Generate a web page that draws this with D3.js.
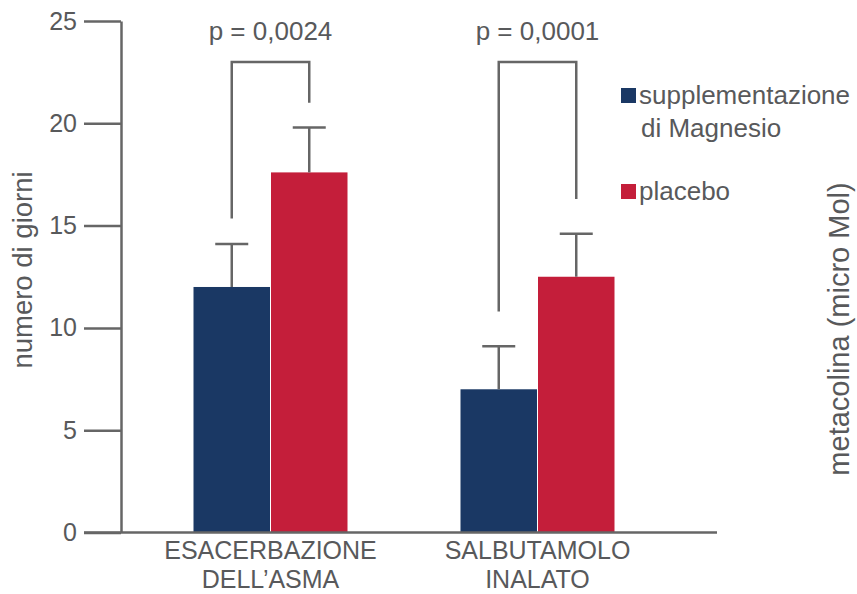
<!DOCTYPE html>
<html lang="it">
  <head>
    <meta charset="UTF-8" />
    <title>Magnesio vs placebo</title>
    <script src="https://d3js.org/d3.v7.min.js"></script>
    <style>
      body {
        margin: 0;
        background: #fff;
      }
      text {
        font-family: 'Liberation Sans', Arial, sans-serif;
        fill: #58595b;
      }
    </style>
  </head>
  <body>
    <svg width="857" height="594"></svg>
    <script>
      // dati
      const categories = [['ESACERBAZIONE', 'DELL\u2019ASMA'], ['SALBUTAMOLO', 'INALATO']];
      const series = ['supplementazione di Magnesio', 'placebo'];
      const magnesio = [12.0, 7.0];
      const placebo = [17.6, 12.5];
      const errMagnesio = [2.1, 2.1];
      const errPlacebo = [2.2, 2.1];
      const pValues = ['p = 0,0024', 'p = 0,0001'];
      const bracketTop = 23;
      const bracketLeft = [15.35, 10.8];
      const bracketRight = [21.0, 16.3];
      const yTicks = [0, 5, 10, 15, 20, 25];

      const colors = ['#1a3864', '#c41e3a'];
      const grey = '#666666';

      const svg = d3.select('svg');
      const keys = categories.map((c) => c.join(' '));

      const y = d3.scaleLinear().domain([0, 25]).range([532.5, 21]);
      const x0 = d3.scaleBand().domain(keys).range([137, 671]);
      const x1 = d3
        .scaleBand()
        .domain(series)
        .range([56.5, 210.5])
        .paddingInner(0.013);

      const rows = keys.map((k, i) => ({
        key: k,
        i: i,
        vals: [
          { s: series[0], v: magnesio[i], e: errMagnesio[i] },
          { s: series[1], v: placebo[i], e: errPlacebo[i] },
        ],
      }));

      // asse y
      const yAxis = svg
        .append('g')
        .attr('transform', 'translate(121,0)')
        .call(
          d3
            .axisLeft(y)
            .tickValues(yTicks)
            .tickSize(37)
            .tickSizeOuter(0)
            .tickPadding(7),
        );
      yAxis.selectAll('path, line').attr('stroke', grey).attr('stroke-width', 2.5);
      yAxis
        .selectAll('text')
        .attr('fill', '#58595b')
        .style('font-size', '25px')
        .style('font-family', "'Liberation Sans', Arial, sans-serif");

      // barre
      const groups = svg
        .append('g')
        .selectAll('g')
        .data(rows)
        .join('g')
        .attr('transform', (d) => `translate(${x0(d.key)},0)`);

      groups
        .selectAll('rect')
        .data((d) => d.vals)
        .join('rect')
        .attr('x', (d) => x1(d.s))
        .attr('y', (d) => y(d.v))
        .attr('width', x1.bandwidth())
        .attr('height', (d) => y(0) - y(d.v))
        .attr('fill', (d, i) => colors[i]);

      // barre di errore
      const err = groups
        .selectAll('g.err')
        .data((d) => d.vals)
        .join('g')
        .attr('class', 'err')
        .attr('stroke', grey)
        .attr('stroke-width', 2.5);
      err
        .append('line')
        .attr('x1', (d) => x1(d.s) + x1.bandwidth() / 2)
        .attr('x2', (d) => x1(d.s) + x1.bandwidth() / 2)
        .attr('y1', (d) => y(d.v))
        .attr('y2', (d) => y(d.v + d.e));
      err
        .append('line')
        .attr('x1', (d) => x1(d.s) + x1.bandwidth() / 2 - 16.5)
        .attr('x2', (d) => x1(d.s) + x1.bandwidth() / 2 + 16.5)
        .attr('y1', (d) => y(d.v + d.e))
        .attr('y2', (d) => y(d.v + d.e));

      // parentesi di significativita
      groups
        .append('path')
        .attr('fill', 'none')
        .attr('stroke', grey)
        .attr('stroke-width', 2.5)
        .attr('d', (d) => {
          const xa = x1(series[0]) + x1.bandwidth() / 2;
          const xb = x1(series[1]) + x1.bandwidth() / 2;
          return `M${xa},${y(bracketLeft[d.i])}V${y(bracketTop)}H${xb}V${y(bracketRight[d.i])}`;
        });

      groups
        .append('text')
        .attr('x', x0.bandwidth() / 2)
        .attr('y', 40)
        .attr('text-anchor', 'middle')
        .style('font-size', '26px')
        .text((d) => pValues[d.i]);

      // asse x
      svg
        .append('line')
        .attr('x1', 84)
        .attr('x2', 717)
        .attr('y1', y(0))
        .attr('y2', y(0))
        .attr('stroke', grey)
        .attr('stroke-width', 2.5);

      const labels = svg
        .append('g')
        .selectAll('text')
        .data(rows)
        .join('text')
        .attr('x', (d) => x0(d.key) + x0.bandwidth() / 2)
        .attr('y', 559)
        .attr('text-anchor', 'middle')
        .style('font-size', '25px');
      labels
        .selectAll('tspan')
        .data((d) => categories[d.i])
        .join('tspan')
        .attr('x', function () {
          return d3.select(this.parentNode).attr('x');
        })
        .attr('dy', (d, i) => (i === 0 ? 0 : 29))
        .text((d) => d);

      // titoli assi
      svg
        .append('text')
        .attr('transform', 'translate(32,270) rotate(-90)')
        .attr('text-anchor', 'middle')
        .style('font-size', '27.5px')
        .text('numero di giorni');

      svg
        .append('text')
        .attr('transform', 'translate(849,329) rotate(-90)')
        .attr('text-anchor', 'middle')
        .style('font-size', '29px')
        .text('metacolina (micro Mol)');

      // legenda
      const legend = svg.append('g');
      const legendRows = [
        { c: colors[0], lines: ['supplementazione', 'di Magnesio'], y: 88 },
        { c: colors[1], lines: ['placebo'], y: 184 },
      ];
      legendRows.forEach((r) => {
        legend
          .append('rect')
          .attr('x', 621)
          .attr('y', r.y)
          .attr('width', 15)
          .attr('height', 15)
          .attr('fill', r.c);
        const t = legend
          .append('text')
          .attr('x', 639)
          .attr('y', r.y + 16)
          .style('font-size', '26px');
        r.lines.forEach((l, i) => {
          t.append('tspan')
            .attr('x', i === 0 ? 639 : 641)
            .attr('dy', i === 0 ? 0 : 33)
            .text(l);
        });
      });
    </script>
  </body>
</html>
